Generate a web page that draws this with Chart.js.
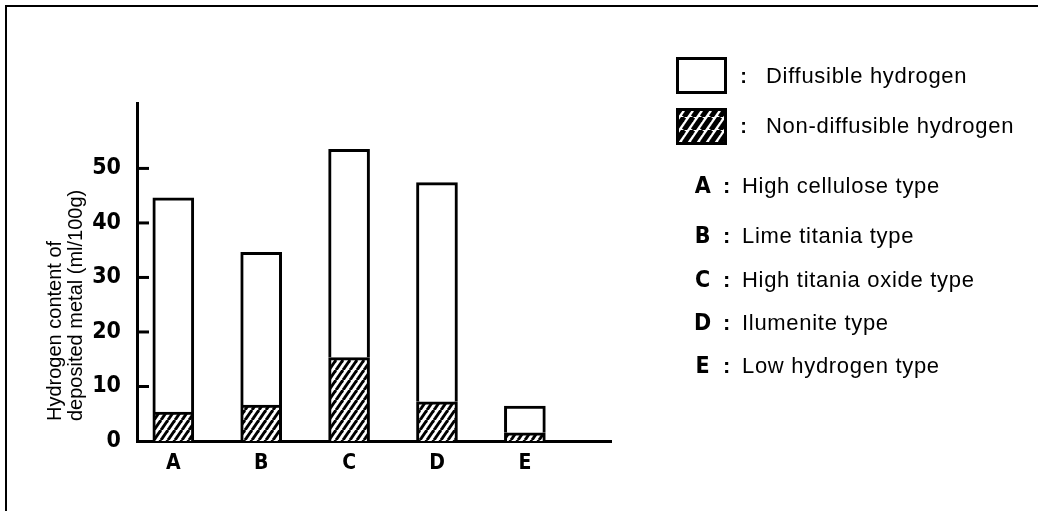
<!DOCTYPE html>
<html>
<head>
<meta charset="utf-8">
<script src="https://cdn.jsdelivr.net/npm/chart.js@4/dist/chart.umd.min.js"></script>
<style>
  body { margin: 0; background: #fff; }
</style>
</head>
<body>
<canvas id="hydrogenChart" width="1038" height="511"></canvas>
<script>
// electrode types and hydrogen content (ml/100g)
const categories = ["A", "B", "C", "D", "E"];
const nonDiffusible = [5.3, 6.6, 15.3, 7.2, 1.5];
const diffusible = [39.3, 28.0, 38.2, 40.2, 4.9];
const yTicks = [0, 10, 20, 30, 40, 50];
const yTitle = ["Hydrogen content of", "deposited metal (ml/100g)"];
const seriesNames = ["Diffusible hydrogen", "Non-diffusible hydrogen"];
const typeNames = [
  "High cellulose type",
  "Lime titania type",
  "High titania oxide type",
  "Ilumenite type",
  "Low hydrogen type"
];

const boldFont = "'DejaVu Sans Condensed', 'Liberation Sans', sans-serif";
const textFont = "'Liberation Sans', Arial, sans-serif";

// diagonal hatch pattern
function makeHatch(w, h, lineW) {
  const c = document.createElement("canvas");
  c.width = w; c.height = h;
  const g = c.getContext("2d");
  g.fillStyle = "#fff";
  g.fillRect(0, 0, w, h);
  g.strokeStyle = "#000";
  g.lineWidth = lineW;
  for (let k = -1; k <= 1; k++) {
    g.beginPath();
    g.moveTo(k * w, h);
    g.lineTo(k * w + w, 0);
    g.stroke();
  }
  return g.createPattern(c, "repeat");
}
const hatch = makeHatch(7, 10, 3);
const hatchLegend = makeHatch(9, 13, 5);

// frame, inward ticks, axis title and the legend
const decorations = {
  id: "decorations",
  afterDraw(chart) {
    const ctx = chart.ctx;
    const area = chart.chartArea;
    const yScale = chart.scales.y;
    ctx.save();
    ctx.fillStyle = "#000";
    ctx.fillRect(5, 5, 1033, 2);
    ctx.fillRect(5, 5, 2, 506);

    // tick marks pointing into the plot
    ctx.strokeStyle = "#000";
    ctx.lineWidth = 3;
    yTicks.forEach(v => {
      if (v === 0) return;
      const y = yScale.getPixelForValue(v);
      ctx.beginPath();
      ctx.moveTo(area.left, y);
      ctx.lineTo(area.left + 12, y);
      ctx.stroke();
    });

    // rotated y title
    ctx.translate(55, 421);
    ctx.rotate(-Math.PI / 2);
    ctx.font = "20px " + textFont;
    ctx.textAlign = "left";
    ctx.textBaseline = "middle";
    yTitle.forEach((line, i) => ctx.fillText(line, 0, i * 21));
    ctx.restore();

    // legend boxes
    ctx.save();
    ctx.lineWidth = 3;
    ctx.strokeStyle = "#000";
    ctx.fillStyle = "#fff";
    ctx.fillRect(677.5, 58.5, 48, 34);
    ctx.strokeRect(677.5, 58.5, 48, 34);
    ctx.fillStyle = hatchLegend;
    ctx.fillRect(677.5, 109.5, 48, 34);
    ctx.strokeRect(677.5, 109.5, 48, 34);

    ctx.fillStyle = "#000";
    ctx.textBaseline = "middle";
    ctx.letterSpacing = "0.7px";
    const rowY = [77, 127];
    seriesNames.forEach((name, i) => {
      ctx.font = "bold 20px " + textFont;
      ctx.textAlign = "center";
      ctx.fillText(":", 744, rowY[i]);
      ctx.font = "22px " + textFont;
      ctx.textAlign = "left";
      ctx.fillText(name, 766, rowY[i]);
    });

    const typeY = [187, 237, 281, 324, 367];
    categories.forEach((cat, i) => {
      ctx.font = "bold 23px " + boldFont;
      ctx.textAlign = "center";
      ctx.fillText(cat, 703, typeY[i]);
      ctx.font = "bold 22px " + textFont;
      ctx.fillText(":", 727, typeY[i]);
      ctx.font = "22px " + textFont;
      ctx.textAlign = "left";
      ctx.fillText(typeNames[i], 742, typeY[i]);
    });
    ctx.restore();
  }
};

const ctx = document.getElementById("hydrogenChart").getContext("2d");
const hydrogenChart = new Chart(ctx, {
  type: "bar",
  data: {
    datasets: [{
      label: seriesNames[1],
      data: nonDiffusible.map((v, i) => ({ x: i, y: v })),
      backgroundColor: hatch,
      borderColor: "#000",
      borderWidth: 3,
      barThickness: 41
    }, {
      label: seriesNames[0],
      data: diffusible.map((v, i) => ({ x: i, y: v })),
      backgroundColor: "#fff",
      borderColor: "#000",
      borderWidth: 3,
      barThickness: 41
    }]
  },
  options: {
    responsive: false,
    animation: false,
    layout: { padding: { top: 103, right: 427, left: 0, bottom: 0 } },
    plugins: {
      legend: { display: false },
      tooltip: { enabled: false }
    },
    scales: {
      x: {
        type: "linear",
        stacked: true,
        offset: false,
        min: -0.413,
        max: 4.98,
        afterBuildTicks: scale => { scale.ticks = categories.map((c, i) => ({ value: i })); },
        afterFit: scale => { scale.height = 70; },
        grid: { display: false, drawTicks: false, offset: false },
        border: { display: true, color: "#000", width: 3 },
        ticks: {
          padding: 10,
          color: "#000",
          font: { family: boldFont, size: 21, weight: "bold" },
          callback: (v, i) => categories[i]
        }
      },
      y: {
        stacked: true,
        min: 0,
        max: 62,
        afterBuildTicks: scale => { scale.ticks = yTicks.map(v => ({ value: v })); },
        afterFit: scale => { scale.width = 137; },
        grid: { display: false, drawTicks: false },
        border: { display: true, color: "#000", width: 3 },
        ticks: {
          padding: 16,
          color: "#000",
          font: { family: boldFont, size: 23, weight: "bold" }
        }
      }
    }
  },
  plugins: [decorations]
});
</script>
</body>
</html>
